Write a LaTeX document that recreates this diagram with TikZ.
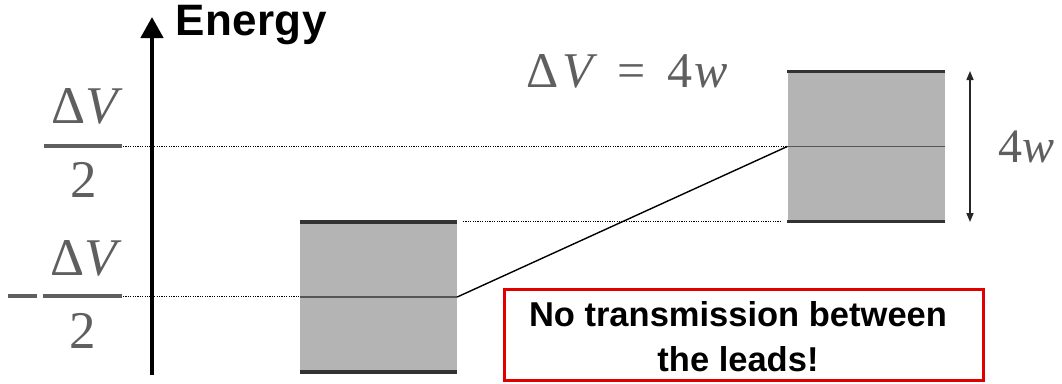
\documentclass[tikz,border=0pt]{standalone}
\usepackage{fontspec}
\setmainfont{Liberation Serif}
\newfontfamily\sansf{Liberation Sans}
\usetikzlibrary{arrows.meta}
\definecolor{txtgray}{HTML}{5F5F5F}
\definecolor{bandfill}{HTML}{B4B4B4}
\definecolor{edgedark}{HTML}{333333}
\definecolor{midgray}{HTML}{555555}
\definecolor{alertred}{HTML}{E00000}
\tikzset{
  band/.style={fill=bandfill, draw=none, minimum width=157pt, minimum height=150pt, inner sep=0pt},
  bandedge/.style={draw=edgedark, line width=3.5pt},
  midline/.style={draw=midgray, line width=1.2pt},
  guide/.style={draw=black, line width=1pt, dash pattern=on 1.2pt off 1.2pt},
  mathtxt/.style={text=txtgray, inner sep=0pt, anchor=base west},
  fracbar/.style={draw=txtgray, line width=3.5pt},
  eqfont/.style={font=\fontsize{50}{52}\selectfont},
  labfont/.style={font=\fontsize{53}{56}\selectfont},
}
\begin{document}
\begin{tikzpicture}[x=1pt,y=-1pt]
\useasboundingbox (0,0) rectangle (1062,383);
% axis
\coordinate (axb) at (152,375);
\coordinate (axt) at (152,17);
\draw[line width=4.5pt, -{Triangle[width=22pt,length=21pt]}] (axb) -- (axt);
\node[anchor=base west, inner sep=0pt, font=\sansf\bfseries\fontsize{44}{50}\selectfont] (energy) at (175,35) {E\kern0.5pt n\kern0.5pt e\kern0.5pt r\kern0.5pt g\kern0.5pt y};
% bands
\node[band] (lb) at (378.5,297) {};
\node[band] (rb) at (866,146.5) {};
% left fraction labels
\coordinate (fu1) at (44,146);
\coordinate (fu2) at (122,146);
\coordinate (fl1) at (43,296);
\coordinate (fl2) at (122,296);
\coordinate (mn1) at (8,296);
\coordinate (mn2) at (37,296);
\draw[fracbar] (fu1) -- (fu2);
\draw[fracbar] (fl1) -- (fl2);
\draw[fracbar] (mn1) -- (mn2);
\node[mathtxt, labfont] (dvu) at (51,123) {Δ\textit{V}};
\node[mathtxt, labfont] (twou) at (70,197) {2};
\node[mathtxt, labfont] (dvl) at (50,275) {Δ\textit{V}};
\node[mathtxt, labfont] (twol) at (69,348) {2};
% guides
\coordinate (g1s) at (123,146);
\coordinate (g1e) at (828,146);
\coordinate (g2s) at (123,296);
\coordinate (g2e) at (443,296);
\coordinate (g3s) at (463,221);
\coordinate (g3e) at (780,221);
\draw[guide] (g1s) -- (g1e);
\draw[guide] (g2s) -- (g2e);
\draw[guide] (g3s) -- (g3e);
% band mid lines and edges
\draw[midline] (lb.west) -- (lb.east);
\draw[midline] (rb.west) -- (rb.east);
\draw[bandedge] (lb.north west) -- (lb.north east);
\draw[bandedge] (lb.south west) -- (lb.south east);
\draw[bandedge] (rb.north west) -- (rb.north east);
\draw[bandedge] (rb.south west) -- (rb.south east);
% slanted connection
\draw[line width=1.4pt] (lb.east) -- (rb.west);
% width arrow
\coordinate (wa1) at (970,71);
\coordinate (wa2) at (970,222);
\draw[line width=1.5pt, draw=black!85, {Triangle[width=7pt,length=9pt]}-{Triangle[width=7pt,length=9pt]}] (wa1) -- (wa2);
\node[mathtxt, font=\fontsize{48}{50}\selectfont] (fw) at (998,162) {4\textit{w}};
% equation
\node[mathtxt, eqfont] (eqd) at (526,87) {Δ};
\node[mathtxt, eqfont] (eqv) at (562,87) {\textit{V}};
\node[mathtxt, eqfont] (eqe) at (617,87) {=};
\node[mathtxt, eqfont] (eqf) at (667,87) {4};
\node[mathtxt, eqfont] (eqw) at (694,87) {\textit{w}};
% red box
\node[draw=alertred, line width=3pt, minimum width=479pt, minimum height=91pt, inner sep=0pt] (note) at (743.5,334.5) {};
\node[anchor=base, inner sep=0pt, font=\sansf\bfseries\fontsize{34.5}{40}\selectfont] (note1) at (738,326) {No transmission between};
\node[anchor=base, inner sep=0pt, font=\sansf\bfseries\fontsize{34.5}{40}\selectfont] (note2) at (738,371) {the leads!};
\end{tikzpicture}
\end{document}
